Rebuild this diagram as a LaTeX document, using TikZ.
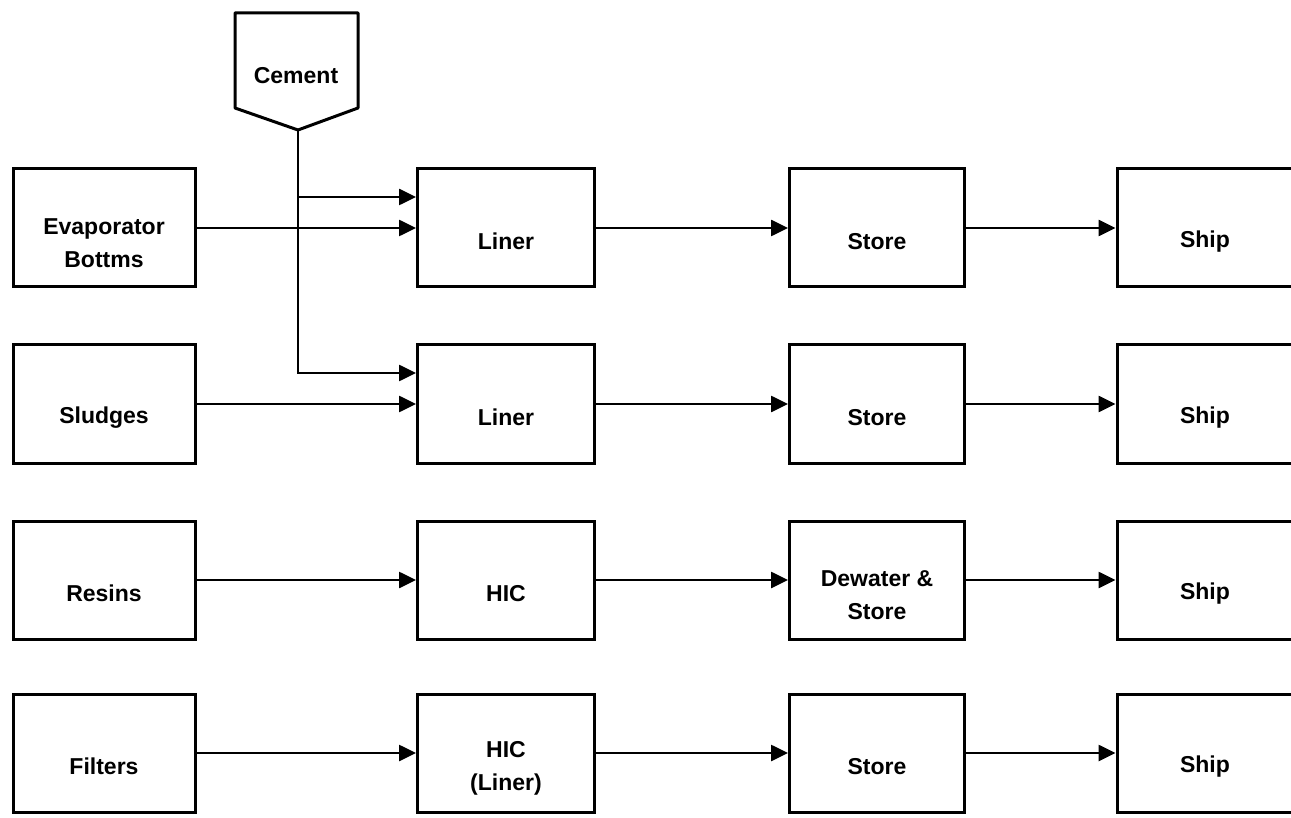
\documentclass[tikz,border=0pt]{standalone}
\usepackage{fontspec}
\setmainfont{Liberation Sans}
\usetikzlibrary{arrows.meta,positioning,calc}
\begin{document}
\begin{tikzpicture}[x=1pt,y=-1pt,
  box/.style={draw,line width=3pt,minimum height=118pt,inner sep=0pt,align=center,
    text height=43pt,font=\fontsize{23}{33}\selectfont\bfseries},
  twoline/.style={text height=79pt},
  arr/.style={line width=2.6pt,-{Triangle[length=17pt,width=16pt]}},
  lbl/.style={font=\fontsize{23}{33}\selectfont\bfseries}]
\clip (0,0) rectangle (1291,818);
\fill[white] (0,0) rectangle (1291,818);
% column 1
\node[box,twoline,minimum width=182pt] (evap) at (104,228) {Evaporator\\Bottms};
\node[box,minimum width=182pt] (sludge) at (104,404) {Sludges};
\node[box,minimum width=182pt] (resin) at (104,580) {Resins};
\node[box,minimum width=182pt] (filter) at (104,753) {Filters};
% column 2
\node[box,minimum width=177pt] (l1) at (506,228) {Liner};
\node[box,minimum width=177pt] (l2) at (506,404) {Liner};
\node[box,minimum width=177pt] (hic) at (506,580) {HIC};
\node[box,twoline,minimum width=177pt] (hicl) at (506,753) {HIC\\(Liner)};
% column 3
\node[box,minimum width=175pt] (s1) at (877,228) {Store};
\node[box,minimum width=175pt] (s2) at (877,404) {Store};
\node[box,twoline,minimum width=175pt] (dw) at (877,580) {Dewater \&\\Store};
\node[box,minimum width=175pt] (s4) at (877,753) {Store};
% column 4
\node[box,minimum width=176pt] (p1) at (1205,228) {Ship};
\node[box,minimum width=176pt] (p2) at (1205,404) {Ship};
\node[box,minimum width=176pt] (p3) at (1205,580) {Ship};
\node[box,minimum width=176pt] (p4) at (1205,753) {Ship};
% cement
\node[lbl] (cement) at (296,76) {Cement};
\coordinate (ctip) at (298,130);
\draw[line width=3pt,line join=round] (235,13) -- (358,13) -- (358,108) -- (ctip) -- (235,108) -- cycle;
% connectors
\draw[arr] (ctip) |- ([yshift=31pt]l1.west);
\draw[arr] (ctip) |- ([yshift=31pt]l2.west);
\draw[arr] (evap.east) -- (l1.west);
\draw[arr] (sludge.east) -- (l2.west);
\draw[arr] (resin.east) -- (hic.west);
\draw[arr] (filter.east) -- (hicl.west);
\draw[arr] (l1.east) -- (s1.west);
\draw[arr] (l2.east) -- (s2.west);
\draw[arr] (hic.east) -- (dw.west);
\draw[arr] (hicl.east) -- (s4.west);
\draw[arr] (s1.east) -- (p1.west);
\draw[arr] (s2.east) -- (p2.west);
\draw[arr] (dw.east) -- (p3.west);
\draw[arr] (s4.east) -- (p4.west);
\end{tikzpicture}
\end{document}
